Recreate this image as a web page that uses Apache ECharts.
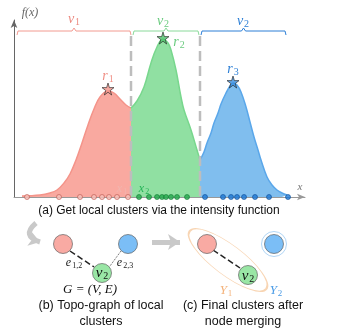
<!DOCTYPE html>
<html><head><meta charset="utf-8">
<script src="https://cdn.jsdelivr.net/npm/echarts@6/dist/echarts.min.js"></script>
<style>html,body{margin:0;padding:0;background:#fff}#c{width:346px;height:329px}</style>
</head><body><div id="c"></div>
<script>
// ---- Data (intensity curve; x/y in plot units) ----
var redX   = [8,26,36,43,50,56,62,68,74,80,86,94,100,106,112,117];
var redY   = [1,2,4,7,14,23,37,54,72,88,100,106,104,98,92,89];
var greenX = [117,123,130,137,143,149,154,157,162,167,170,177,183,186];
var greenY = [89,96,110,134,150,158,154,147,127,100,87,67,47,37];
var blueX  = [186,190,193,197,200,204,207,212,216,219,223,227,232,236,240,244,247,253,258,263,268,273];
var blueY  = [37,45,54,64,74,84,93,104,111,114,112,105,90,75,60,47,37,20,12,7,4,2];
// samples on the x axis
var redPts   = [13,45,66,80,88,95,103,114];
var greenPts = [125,135,143,148,152,157,163,173];
var bluePts  = [191,209,217,223,230,241,255,274];
// local maxima r1,r2,r3
var peakX = [94,149,219];
var peakY = [108,159,115];
// cluster boundaries
var bounds = [3,117,186,272];

var RED='#F9A9A0', GREEN='#90E0A2', BLUE='#80BEEE';
var RED_L='#F4948A', GREEN_L='#78D78D', BLUE_L='#5AA7EA';
function pairs(xs,ys){return xs.map(function(x,i){return [x,ys[i]];});}
function dots(xs){return xs.map(function(x){return [x,0];});}
function brace(a,b){var m=(a+b)/2;return [[a,162],[a+1,166],[m-2,166],[m,169],[m+2,166],[b-1,166],[b,162]];}

var serif='Liberation Serif, DejaVu Serif, serif';
var sans='Liberation Sans, Arial, sans-serif';
function plain(x,y,s,color,size){
  return {type:'text',x:x,y:y,z:100,style:{text:s,fill:color,font:size+'px '+sans,textAlign:'center',textVerticalAlign:'middle'}};
}
// math label: base (italic) + optional subscript (upright, smaller)
function m(x,y,base,sub,color,size){
  size=size||14;
  var txt='{b|'+base+'}'+(sub?'{s|'+sub+'}':'');
  return {type:'text',x:x,y:y,z:100,style:{text:txt,fill:color,textAlign:'center',textVerticalAlign:'middle',
    rich:{b:{fontFamily:serif,fontStyle:'italic',fontSize:size,lineHeight:size+2,fill:color,color:color,verticalAlign:'middle'},
          s:{fontFamily:serif,fontSize:Math.round(size*0.68),lineHeight:size+2,fill:color,color:color,verticalAlign:'bottom',padding:[0,0,0,1]}}}};
}

var chart=echarts.init(document.getElementById('c'),null,{renderer:'canvas'});
var starPath='path://M50,0 L61,35 L98,35 L68,57 L79,91 L50,70 L21,91 L32,57 L2,35 L39,35 Z';
var dash={color:'#BDBDBD',width:2.5,type:'dashed',dashOffset:0};

var series=[
  {type:'line',data:pairs(redX,redY),smooth:0.4,symbol:'none',
   lineStyle:{color:RED_L,width:1.5},areaStyle:{color:RED,opacity:1},z:2},
  {type:'line',data:pairs(greenX,greenY),smooth:0.4,symbol:'none',
   lineStyle:{color:GREEN_L,width:1.5},areaStyle:{color:GREEN,opacity:1},z:2},
  {type:'line',data:pairs(blueX,blueY),smooth:0.4,symbol:'none',
   lineStyle:{color:BLUE_L,width:1.5},areaStyle:{color:BLUE,opacity:1},z:2},
  // dashed boundaries
  {type:'line',data:[[bounds[1],1],[bounds[1],165]],symbol:'none',lineStyle:dash,z:8},
  {type:'line',data:[[bounds[2],1],[bounds[2],165]],symbol:'none',lineStyle:dash,z:8},
  // braces
  {type:'line',data:brace(bounds[0],bounds[1]),symbol:'none',lineStyle:{color:'#F29A90',width:1},z:3},
  {type:'line',data:brace(bounds[1]+2,bounds[2]-1),symbol:'none',lineStyle:{color:'#8AD99A',width:1},z:3},
  {type:'line',data:brace(bounds[2]+1,bounds[3]),symbol:'none',lineStyle:{color:'#2C7FD6',width:1},z:3},
  // sample points
  {type:'scatter',data:dots(redPts),symbolSize:5,itemStyle:{color:'#F9C2BC',borderColor:'#B9564D',borderWidth:0.8},z:9},
  {type:'scatter',data:dots(greenPts),symbolSize:5,itemStyle:{color:'#22AA4C',borderColor:'#157A35',borderWidth:0.8},z:9},
  {type:'scatter',data:dots(bluePts),symbolSize:5,itemStyle:{color:'#1C78D6',borderColor:'#0F4F95',borderWidth:0.8},z:9},
  // stars
  {type:'scatter',data:[[peakX[0],peakY[0]]],symbol:starPath,symbolSize:12,itemStyle:{color:'#F4958B',borderColor:'#222',borderWidth:0.8},z:9},
  {type:'scatter',data:[[peakX[1],peakY[1]]],symbol:starPath,symbolSize:12,itemStyle:{color:'#4FC36C',borderColor:'#222',borderWidth:0.8},z:9},
  {type:'scatter',data:[[peakX[2],peakY[2]]],symbol:starPath,symbolSize:12,itemStyle:{color:'#3A8FE0',borderColor:'#222',borderWidth:0.8},z:9}
];

// ---- bottom diagrams (overlay grid in pixel units) ----
var graphNodes  = [[63,244],[128,244],[102,273]];
var mergedNodes = [[207,244],[274,244],[248,275]];
var nodeColors  = ['#F8958C','#5AAEF4','#7FE08F'];
function ov(s){s.xAxisIndex=1;s.yAxisIndex=1;return s;}
series.push(
  ov({type:'lines',coordinateSystem:'cartesian2d',data:[{coords:[[36,223],[40,242]]}],
      lineStyle:{color:'#C9C9C9',width:5,curveness:-0.9,opacity:1},symbol:['none','arrow'],symbolSize:11,z:4}),
  ov({type:'lines',coordinateSystem:'cartesian2d',data:[{coords:[[152,242],[180,242]]}],
      lineStyle:{color:'#C9C9C9',width:5,opacity:1},symbol:['none','arrow'],symbolSize:12,z:4}),
  ov({type:'line',data:[[70,251],[94,267]],symbol:'none',lineStyle:{color:'#222',width:1.5,type:'dashed'},z:4}),
  ov({type:'line',data:[[121,251],[110,266]],symbol:'none',lineStyle:{color:'#555',width:1,type:'dotted'},z:4}),
  ov({type:'line',data:[[213,250],[240,268]],symbol:'none',lineStyle:{color:'#222',width:1.5,type:'dashed'},z:4}),
  ov({type:'scatter',data:[[228,260]],symbol:'circle',symbolSize:[96,30],symbolRotate:-37,
      itemStyle:{color:'rgba(255,255,255,0)',borderColor:'#F6CBA0',borderWidth:1.2},z:3}),
  ov({type:'scatter',data:[mergedNodes[1]],symbolSize:25,itemStyle:{color:'rgba(255,255,255,0)',borderColor:'#9CCBF3',borderWidth:1},z:3}),
  ov({type:'scatter',data:graphNodes.map(function(p,i){return {value:p,itemStyle:{color:nodeColors[i]}};}),
      symbolSize:[19,19],itemStyle:{borderColor:'#555',borderWidth:0.8},z:5}),
  ov({type:'scatter',data:mergedNodes.map(function(p,i){return {value:p,itemStyle:{color:nodeColors[i]}};}),
      symbolSize:19,itemStyle:{borderColor:'#555',borderWidth:0.8},z:5})
);

chart.setOption({
  animation:false,
  grid:[{left:14,right:41,top:20,bottom:132},{left:0,right:0,top:0,bottom:0}],
  xAxis:[
    {type:'value',min:0,max:291,gridIndex:0,splitLine:{show:false},axisTick:{show:false},axisLabel:{show:false},
     axisLine:{onZero:false,lineStyle:{color:'#999',width:1},symbol:['none','arrow'],symbolSize:[5,8]}},
    {type:'value',min:0,max:346,gridIndex:1,show:false}
  ],
  yAxis:[
    {type:'value',min:0,max:177,gridIndex:0,splitLine:{show:false},axisTick:{show:false},axisLabel:{show:false},
     axisLine:{show:true,lineStyle:{color:'#666',width:1},symbol:['none','arrow'],symbolSize:[5,8]}},
    {type:'value',min:0,max:329,inverse:true,gridIndex:1,show:false}
  ],
  series:series,
  graphic:[
    m(30,13,'f(x)','','#666',12),
    m(74,19,'v','1','#EC8A80',14),
    m(163,21,'v','2','#6ACB7F',14),
    m(243,21,'v','2','#2C7FD6',14),
    m(108,76,'r','1','#F08F85',14),
    m(179,42,'r','2','#6ACB7F',14),
    m(233,69,'r','3','#2C7FD6',14),
    m(122,189,'x','1','#F2B5AE',12),
    m(144,189,'x','2','#23B356',12),
    m(300,187,'x','','#777',11),
    plain(159,211,'(a) Get local clusters via the intensity function','#111',12),
    m(102,273,'v','2','#111',15),
    m(74,263,'e','1,2','#222',12),
    m(125,263,'e','2,3','#222',12),
    m(90,290,'G = (V, E)','','#111',13),
    plain(101,306,'(b) Topo-graph of local','#111',12.5),
    plain(101,322,'clusters','#111',12.5),
    m(248,276,'v','2','#111',15),
    m(226,291,'Y','1','#F4B27A',13),
    m(276,291,'Y','2','#4A9BE6',13),
    plain(243,306,'(c) Final clusters after','#111',12.5),
    plain(243,322,'node merging','#111',12.5)
  ]
});
</script></body></html>
